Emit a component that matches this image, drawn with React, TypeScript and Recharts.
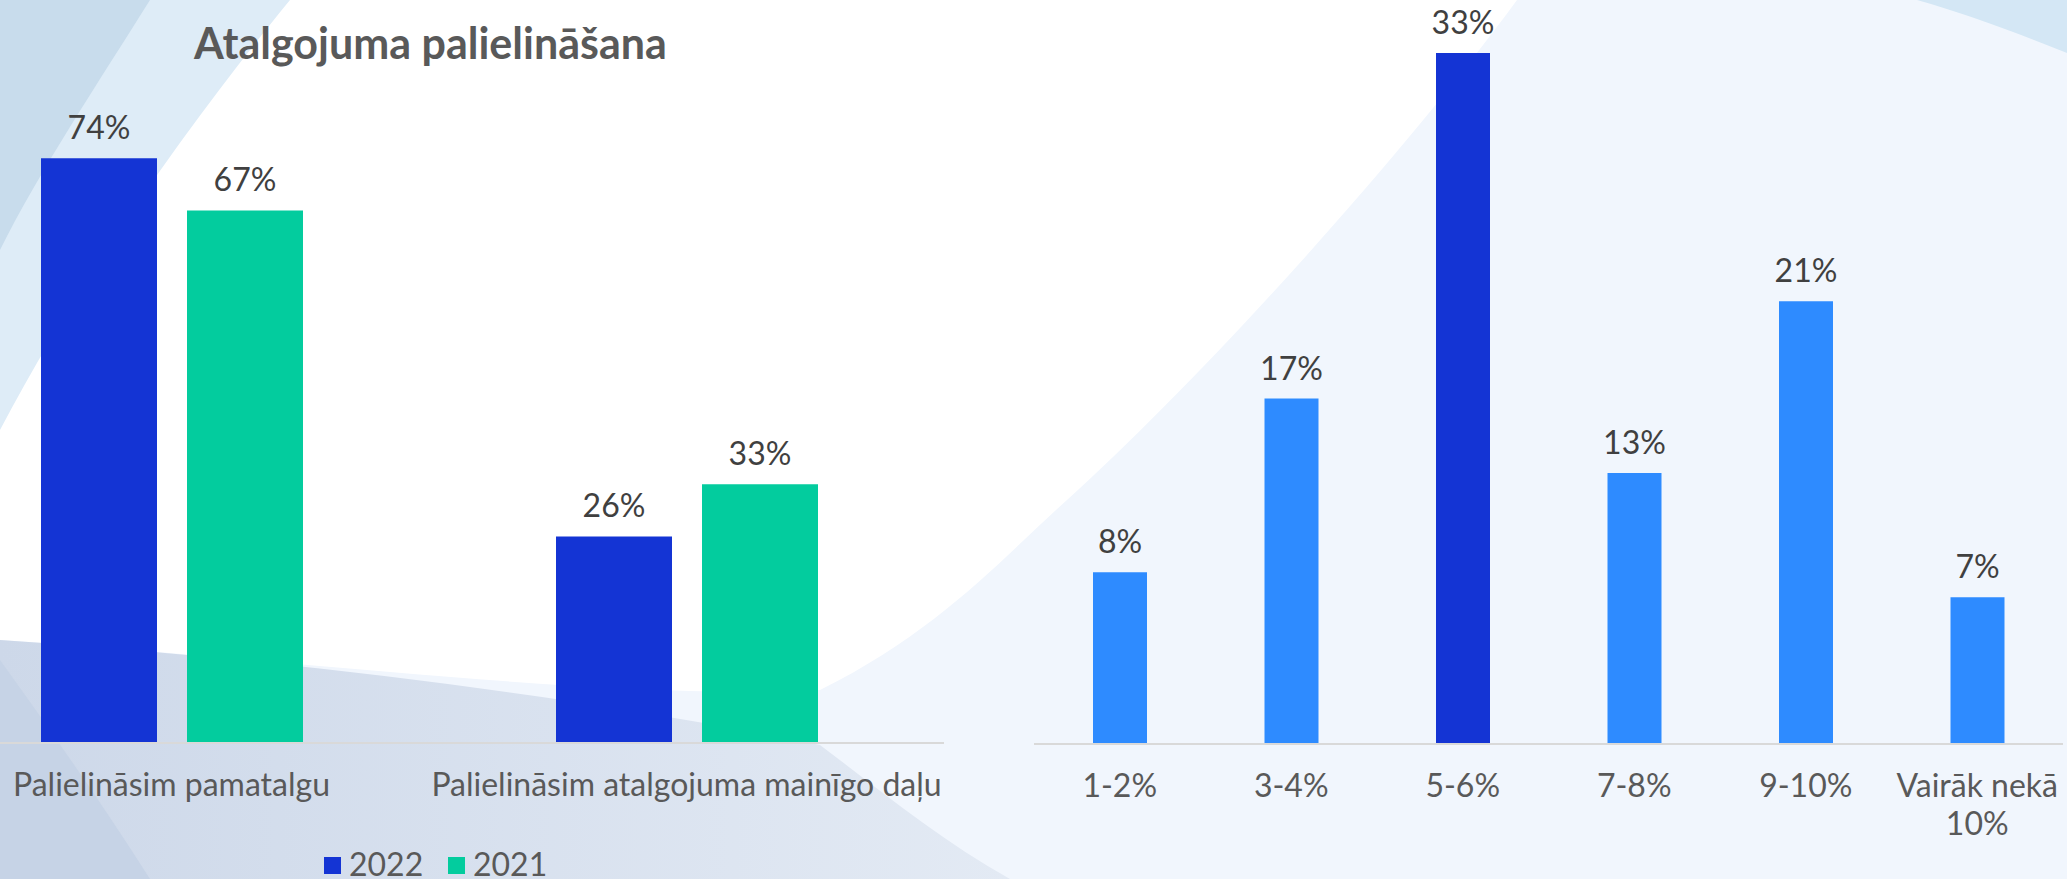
import { BarChart, Bar, XAxis, YAxis, LabelList, Cell } from 'recharts';

const title = 'Atalgojuma palielināšana';

// left chart: two yearly series per question (each year sums to 100)
const questions = ['Palielināsim pamatalgu', 'Palielināsim atalgojuma mainīgo daļu'];
const years = ['2022', '2021'];
const share2022 = [73.9, 26.1];
const share2021 = [67.3, 32.7];

// right chart: size of the planned increase
const ranges = ['1-2%', '3-4%', '5-6%', '7-8%', '9-10%', 'Vairāk nekā 10%'];
const rangeShare = [8.3, 16.7, 33.4, 13.1, 21.4, 7.1];
const topRange = '5-6%';

const DARK_BLUE = '#1434D4';
const GREEN = '#03CC9E';
const LIGHT_BLUE = '#2E8BFF';
const AXIS = '#D9D9D9';
const LABEL = '#404040';
const TICK = '#595959';
const FONT = 'Lato, "Open Sans", sans-serif';

const seriesColors = [DARK_BLUE, GREEN];

const leftData = questions.map((q, i) => ({ name: q, y2022: share2022[i], y2021: share2021[i] }));
const rightData = ranges.map((r, i) => ({ name: r, value: rangeShare[i] }));

const pct = (v: any) => `${Math.round(Number(v))}%`;

function Tick({ x, y, payload, wrap }: any) {
  const text = String(payload.value);
  const words = text.split(' ');
  const lines = wrap && words.length > 2 ? [words.slice(0, -1).join(' '), words[words.length - 1]] : [text];
  return (
    <text x={x} y={y + 53} textAnchor="middle" fill={TICK} fontSize={32} fontFamily={FONT}>
      {lines.map((l, i) => (
        <tspan key={i} x={x} dy={i === 0 ? 0 : 38}>
          {l}
        </tspan>
      ))}
    </text>
  );
}

function Background() {
  return (
    <svg width={2067} height={879} style={{ position: 'absolute', left: 0, top: 0 }}>
      <defs>
        <linearGradient id="bottomBand" x1="0" y1="0" x2="1" y2="0">
          <stop offset="0%" stopColor="#CDD8E9" />
          <stop offset="100%" stopColor="#E3EAF4" />
        </linearGradient>
      </defs>
      <rect x={0} y={0} width={2067} height={879} fill="#F1F6FD" />
      <path d="M0,0 L1517,0 C1400,160 1200,380 1067,500 C1000,560 940,630 820,690 C600,700 300,660 0,640 Z" fill="#FFFFFF" />
      <path d="M0,640 C300,660 600,700 820,745 C880,790 940,840 1010,879 L0,879 Z" fill="url(#bottomBand)" />
      <path d="M0,660 C50,730 100,800 150,879 L0,879 Z" fill="#C6D3E6" />
      <path d="M0,0 L290,0 C200,110 90,260 0,430 Z" fill="#DEECF7" />
      <path d="M0,0 L150,0 C100,80 40,170 0,250 Z" fill="#C8DCEC" />
      <path d="M1917,0 L2067,0 L2067,53 C2010,30 1960,12 1917,0 Z" fill="#D4E7F5" />
    </svg>
  );
}

export default function App() {
  return (
    <div
      style={{
        position: 'absolute',
        left: 0,
        top: 0,
        width: 2067,
        height: 879,
        overflow: 'hidden',
        fontFamily: FONT,
      }}
    >
      <Background />

      <div style={{ position: 'absolute', left: -86, top: 0 }}>
        <BarChart width={1030} height={879} data={leftData} margin={{ top: 110, right: 0, bottom: 0, left: 0 }} barGap={30} barSize={116}>
          <XAxis
            dataKey="name"
            height={136}
            interval={0}
            tickLine={false}
            tickSize={0}
            tickMargin={0}
            axisLine={{ stroke: AXIS, strokeWidth: 2 }}
            tick={<Tick />}
          />
          <YAxis hide domain={[0, 80]} />
          {['y2022', 'y2021'].map((key, i) => (
            <Bar key={key} dataKey={key} name={years[i]} fill={seriesColors[i]} isAnimationActive={false}>
              <LabelList dataKey={key} position="top" offset={19} fill={LABEL} fontSize={32} fontFamily={FONT} formatter={pct} />
            </Bar>
          ))}
        </BarChart>
      </div>

      <div style={{ position: 'absolute', left: 1034, top: 0 }}>
        <BarChart width={1029} height={879} data={rightData} margin={{ top: 20, right: 0, bottom: 0, left: 0 }} barSize={54}>
          <XAxis
            dataKey="name"
            height={135}
            interval={0}
            tickLine={false}
            tickSize={0}
            tickMargin={0}
            axisLine={{ stroke: AXIS, strokeWidth: 2 }}
            tick={<Tick wrap />}
          />
          <YAxis hide domain={[0, 35]} />
          <Bar dataKey="value" isAnimationActive={false}>
            {rightData.map((d) => (
              <Cell key={d.name} fill={d.name === topRange ? DARK_BLUE : LIGHT_BLUE} />
            ))}
            <LabelList dataKey="value" position="top" offset={19} fill={LABEL} fontSize={32} fontFamily={FONT} formatter={pct} />
          </Bar>
        </BarChart>
      </div>

      <svg width={2067} height={879} style={{ position: 'absolute', left: 0, top: 0, pointerEvents: 'none' }}>
        <text x={194} y={59} fontSize={43} fontWeight={700} fill="#595959" fontFamily={FONT}>
          {title}
        </text>
        {years.map((y, i) => (
          <g key={y}>
            <rect x={324 + i * 124} y={857} width={17} height={17} fill={seriesColors[i]} />
            <text x={349 + i * 124} y={876} fontSize={32} fill={TICK} fontFamily={FONT}>
              {y}
            </text>
          </g>
        ))}
      </svg>
    </div>
  );
}
